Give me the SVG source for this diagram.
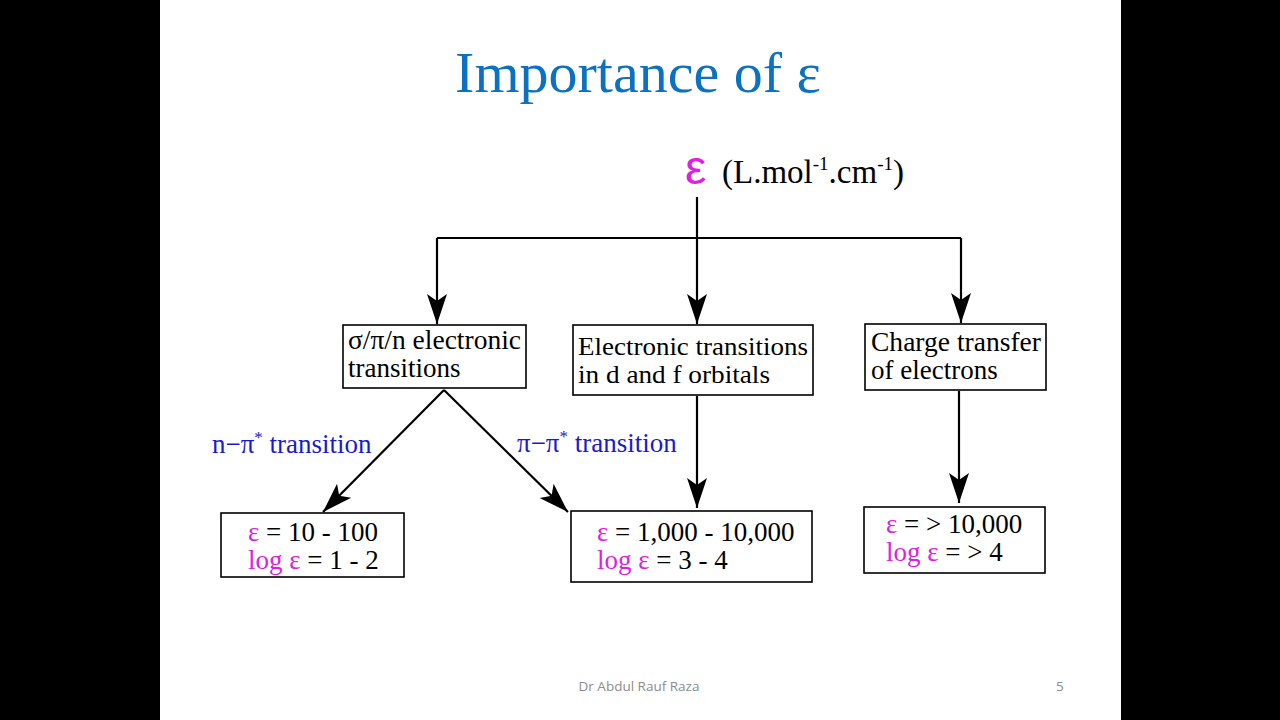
<svg xmlns="http://www.w3.org/2000/svg" width="1280" height="720" viewBox="0 0 1280 720">
<defs>
<marker id="ah" markerUnits="userSpaceOnUse" markerWidth="32" markerHeight="24" refX="30" refY="12" orient="auto">
<path d="M0,2 L30,12 L0,22 L7,12 Z" fill="#000"/>
</marker>
</defs>
<style>
.bx{fill:#fff;stroke:#000;stroke-width:1.6}
.t{font-family:"Liberation Serif",serif;font-size:27px;fill:#000}
.m{fill:#e020e0}
.b{font-family:"Liberation Serif",serif;font-size:27px;fill:#1a1acc}
.ln{stroke:#000;stroke-width:2.2;fill:none}
</style>
<rect x="0" y="0" width="1280" height="720" fill="#000"/>
<rect x="160" y="0" width="961" height="720" fill="#fff"/>
<text x="638" y="92" text-anchor="middle" font-family="Liberation Serif,serif" font-size="58" fill="#0a72c0">Importance of ε</text>
<g id="root">
<text x="685" y="184" font-family="Liberation Sans,sans-serif" font-size="48" fill="#e020e0">ε</text>
<text x="722" y="183" class="t" style="font-size:33px">(L.mol<tspan dy="-13" style="font-size:19px">-1</tspan><tspan dy="13">.cm</tspan><tspan dy="-13" style="font-size:19px">-1</tspan><tspan dy="13">)</tspan></text>
</g>
<g id="connectors">
<path class="ln" d="M697,197 V238"/>
<path class="ln" d="M437,238 H961"/>
<path class="ln" d="M437,238 V324" marker-end="url(#ah)"/>
<path class="ln" d="M697,238 V324" marker-end="url(#ah)"/>
<path class="ln" d="M961,238 V323" marker-end="url(#ah)"/>
<path class="ln" d="M444,390 L323,512" marker-end="url(#ah)"/>
<path class="ln" d="M444,390 L568,512" marker-end="url(#ah)"/>
<path class="ln" d="M697,396 V508" marker-end="url(#ah)"/>
<path class="ln" d="M959,391 V503" marker-end="url(#ah)"/>
</g>
<g id="lbl1"><text x="212" y="453" class="b">n−π<tspan dy="-10" style="font-size:17px">*</tspan><tspan dy="10"> transition</tspan></text></g>
<g id="lbl2"><text x="517" y="452" class="b">π−π<tspan dy="-10" style="font-size:17px">*</tspan><tspan dy="10"> transition</tspan></text></g>
<g id="n1">
<rect class="bx" x="343" y="325" width="183" height="63"/>
<text x="348" y="349" class="t" textLength="173" lengthAdjust="spacingAndGlyphs">σ/π/n electronic</text>
<text x="348" y="377" class="t">transitions</text>
</g>
<g id="n2">
<rect class="bx" x="573" y="325" width="240" height="70"/>
<text x="578" y="355" class="t" style="font-size:26px" textLength="230" lengthAdjust="spacingAndGlyphs">Electronic transitions</text>
<text x="578" y="383" class="t" style="font-size:26px" textLength="192" lengthAdjust="spacingAndGlyphs">in d and f orbitals</text>
</g>
<g id="n3">
<rect class="bx" x="865" y="324" width="181" height="66"/>
<text x="871" y="351" class="t" textLength="170" lengthAdjust="spacingAndGlyphs">Charge transfer</text>
<text x="871" y="379" class="t">of electrons</text>
</g>
<g id="n4">
<rect class="bx" x="221" y="513" width="183" height="64"/>
<text x="248" y="541" class="t"><tspan class="m">ε</tspan> = 10 - 100</text>
<text x="248" y="569" class="t"><tspan class="m">log ε</tspan> = 1 - 2</text>
</g>
<g id="n5">
<rect class="bx" x="571" y="511" width="241" height="71"/>
<text x="597" y="541" class="t"><tspan class="m">ε</tspan> = 1,000 - 10,000</text>
<text x="597" y="569" class="t"><tspan class="m">log ε</tspan> = 3 - 4</text>
</g>
<g id="n6">
<rect class="bx" x="864" y="507" width="181" height="66"/>
<text x="886" y="533" class="t"><tspan class="m">ε</tspan> = &gt; 10,000</text>
<text x="886" y="561" class="t"><tspan class="m">log ε</tspan> = &gt; 4</text>
</g>
<text x="639" y="691" text-anchor="middle" font-family="Open Sans,sans-serif" font-size="13.5" fill="#8c8c8c">Dr Abdul Rauf Raza</text>
<text x="1056" y="691" font-family="Open Sans,sans-serif" font-size="13.5" fill="#8c8c8c">5</text>
</svg>
